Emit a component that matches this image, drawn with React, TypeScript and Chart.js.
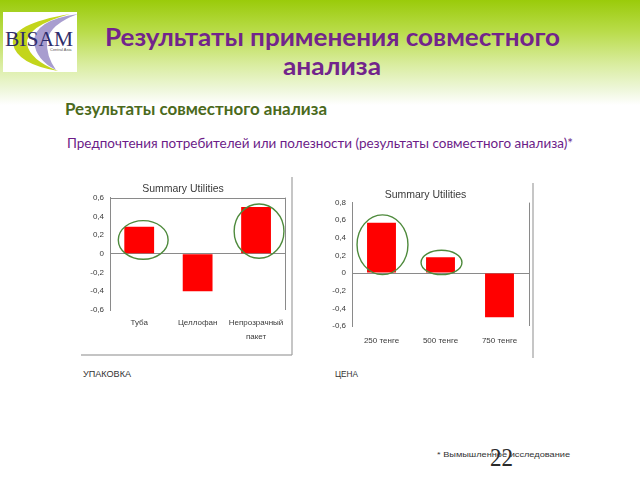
import React, { useEffect, useRef } from "react";
import { Chart, registerables } from "chart.js";

Chart.register(...registerables);

// ---- Data ----
const PACK_LABELS: (string | string[])[] = ["Туба", "Целлофан", ["Непрозрачный", "пакет"]];
const PACK_VALUES = [0.29, -0.4, 0.5];
const PACK_TICKS = [-0.6, -0.4, -0.2, 0, 0.2, 0.4, 0.6];
const PACK_TICK_LABELS = ["-0,6", "-0,4", "-0,2", "0", "0,2", "0,4", "0,6"];
const PACK_HIGHLIGHT = [0, 2];

const PRICE_LABELS = ["250 тенге", "500 тенге", "750 тенге"];
const PRICE_VALUES = [0.57, 0.18, -0.5];
const PRICE_TICKS = [-0.6, -0.4, -0.2, 0, 0.2, 0.4, 0.6, 0.8];
const PRICE_TICK_LABELS = ["-0,6", "-0,4", "-0,2", "0", "0,2", "0,4", "0,6", "0,8"];
const PRICE_HIGHLIGHT = [0, 1];

const CHART_TITLE = "Summary Utilities";

const AXIS_GRAY = "#8a8a8a";
const TEXT_GRAY = "#3a3a3a";
const BAR_RED = "#ff0000";
const ELLIPSE_GREEN = "#4e8a3c";
const CHART_FONT = "'Liberation Sans', Arial, sans-serif";

const ellipsePlugin = {
  id: "ellipses",
  afterDatasetsDraw(chart: any, _args: any, opts: any) {
    const items = (opts && opts.items) || [];
    const meta = chart.getDatasetMeta(0);
    const ctx = chart.ctx;
    ctx.save();
    ctx.strokeStyle = opts.color || ELLIPSE_GREEN;
    ctx.lineWidth = opts.width || 1.5;
    items.forEach((it: any) => {
      const el = meta.data[it.index];
      if (!el) return;
      const p = el.getProps(["x", "y", "base", "width"], true);
      const cx = p.x + (it.dx || 0);
      const cy = (p.y + p.base) / 2 + (it.dy || 0);
      const rx = p.width / 2 + it.padX;
      const ry = Math.abs(p.base - p.y) / 2 + it.padY;
      ctx.beginPath();
      ctx.ellipse(cx, cy, rx, ry, it.rot || 0, 0, Math.PI * 2);
      ctx.stroke();
    });
    ctx.restore();
  },
};

const framePlugin = {
  id: "areaFrame",
  afterDraw(chart: any, _args: any, opts: any) {
    const { left, top, right, bottom } = chart.chartArea;
    const ctx = chart.ctx;
    ctx.save();
    ctx.strokeStyle = AXIS_GRAY;
    ctx.lineWidth = 1;
    ctx.beginPath();
    const r = Math.round(right) + 0.5;
    if (opts && opts.top) {
      const t = Math.round(top) + 0.5;
      ctx.moveTo(left, t);
      ctx.lineTo(r, t);
    }
    ctx.moveTo(r, top);
    ctx.lineTo(r, bottom);
    ctx.stroke();
    ctx.restore();
  },
};

type Cfg = {
  labels: (string | string[])[];
  values: number[];
  ticks: number[];
  tickLabels: string[];
  highlight: number[];
  ellipseStyle: { dx: number; dy: number; padX: number; padY: number }[];
  width: number;
  height: number;
  yWidth: number;
  xHeight: number;
  padRight: number;
  titlePadTop: number;
  titlePadBottom: number;
  xTickPad: number;
  barPct: number;
  topBorder: boolean;
};

function BarChart(props: { cfg: Cfg }) {
  const ref = useRef<HTMLCanvasElement | null>(null);
  const c = props.cfg;
  useEffect(() => {
    if (!ref.current) return;
    const lbl = (v: number) => {
      const i = c.ticks.findIndex((t) => Math.abs(t - v) < 1e-6);
      return i >= 0 ? c.tickLabels[i] : "";
    };
    const chart = new Chart(ref.current, {
      type: "bar",
      data: {
        labels: c.labels as any,
        datasets: [
          {
            data: c.values,
            backgroundColor: BAR_RED,
            borderWidth: 0,
            barPercentage: c.barPct,
            categoryPercentage: 1,
          },
        ],
      },
      plugins: [ellipsePlugin, framePlugin],
      options: {
        responsive: false,
        animation: false,
        devicePixelRatio: 1,
        layout: { padding: { left: 0, right: c.padRight, top: 0, bottom: 0 } },
        plugins: {
          legend: { display: false },
          tooltip: { enabled: false },
          title: {
            display: true,
            text: CHART_TITLE,
            color: TEXT_GRAY,
            font: { family: CHART_FONT, size: 10.5, weight: "normal", lineHeight: 1.2 },
            padding: { top: c.titlePadTop, bottom: c.titlePadBottom },
          },
          ellipses: {
            color: ELLIPSE_GREEN,
            width: 1.4,
            items: c.highlight.map((index, k) => ({ index, ...c.ellipseStyle[k] })),
          },
          areaFrame: { top: c.topBorder },
        } as any,
        scales: {
          x: {
            grid: { display: false, drawTicks: false },
            border: { display: false },
            ticks: {
              color: TEXT_GRAY,
              font: { family: CHART_FONT, size: 8, lineHeight: 1.7 },
              padding: c.xTickPad,
              maxRotation: 0,
              autoSkip: false,
            },
            afterFit: (s: any) => {
              s.height = c.xHeight;
            },
          },
          y: {
            min: c.ticks[0],
            max: c.ticks[c.ticks.length - 1],
            afterBuildTicks: (s: any) => {
              s.ticks = c.ticks.map((v) => ({ value: v }));
            },
            afterFit: (s: any) => {
              s.width = c.yWidth;
            },
            ticks: {
              color: TEXT_GRAY,
              font: { family: CHART_FONT, size: 8 },
              padding: 6,
              callback: (v: any) => lbl(Number(v)),
            },
            grid: {
              drawTicks: false,
              lineWidth: 1,
              color: (ctx: any) =>
                ctx.tick && Math.abs(ctx.tick.value) < 1e-6 ? AXIS_GRAY : "rgba(0,0,0,0)",
            },
            border: { display: true, color: AXIS_GRAY, width: 1 },
          },
        },
      } as any,
    });
    return () => chart.destroy();
  }, []);
  return (
    <canvas
      ref={ref}
      width={c.width}
      height={c.height}
      style={{ width: c.width, height: c.height, display: "block" }}
    />
  );
}

const PACK_CFG: Cfg = {
  labels: PACK_LABELS,
  values: PACK_VALUES,
  ticks: PACK_TICKS,
  tickLabels: PACK_TICK_LABELS,
  highlight: PACK_HIGHLIGHT,
  ellipseStyle: [
    { dx: 4, dy: 0, padX: 10, padY: 6 },
    { dx: 3, dy: 1, padX: 10, padY: 4 },
  ],
  width: 210,
  height: 175,
  yWidth: 30,
  xHeight: 43,
  padRight: 4,
  titlePadTop: 5,
  titlePadBottom: 2,
  xTickPad: 6,
  barPct: 0.51,
  topBorder: true,
};

const PRICE_CFG: Cfg = {
  labels: PRICE_LABELS,
  values: PRICE_VALUES,
  ticks: PRICE_TICKS,
  tickLabels: PRICE_TICK_LABELS,
  highlight: PRICE_HIGHLIGHT,
  ellipseStyle: [
    { dx: 1, dy: -3, padX: 11, padY: 5 },
    { dx: 1, dy: -2.5, padX: 6, padY: 4.5 },
  ],
  width: 210,
  height: 175,
  yWidth: 30,
  xHeight: 29,
  padRight: 3,
  titlePadTop: 9,
  titlePadBottom: 1,
  xTickPad: 8,
  barPct: 0.49,
  topBorder: false,
};

export default function App() {
  return (
    <div
      style={{
        position: "absolute",
        left: 0,
        top: 0,
        width: 640,
        height: 480,
        overflow: "hidden",
        background: "#ffffff",
      }}
    >
      <svg width={640} height={480} style={{ position: "absolute", left: 0, top: 0 }}>
        <defs>
          <linearGradient id="hdr" x1="0" y1="0" x2="0" y2="1">
            <stop offset="0" stopColor="#9acb0a" />
            <stop offset="0.3" stopColor="#b9dc4a" />
            <stop offset="0.6" stopColor="#d8ec9c" />
            <stop offset="0.85" stopColor="#eef7da" />
            <stop offset="1" stopColor="#ffffff" />
          </linearGradient>
        </defs>
        <rect x={0} y={0} width={640} height={105} fill="url(#hdr)" />
        {/* logo */}
        <rect x={3} y={12} width={74} height={60} fill="#ffffff" />
        <path d="M 70 14 Q 10 24 13 44 Q 17 64 58 71 Q 30 60 27 44 Q 26 26 70 14 Z" fill="#c3d51c" />
        <path d="M 78 14 Q 34 20 34 42 Q 36 60 56 70 Q 46 56 47 41 Q 50 24 78 14 Z" fill="#a89dcf" />
        <text
          x={5}
          y={46}
          textLength={68}
          lengthAdjust="spacingAndGlyphs"
          fontFamily="'Liberation Serif', serif"
          fontSize={20}
          fill="#2f2d6c"
        >
          BISAM
        </text>
        <text x={50} y={51} fontFamily="'Liberation Sans', sans-serif" fontSize={4} fill="#555">
          Central Asia
        </text>
        {/* titles */}
        <text
          x={105}
          y={46}
          textLength={455}
          lengthAdjust="spacingAndGlyphs"
          fontFamily="Lato, 'DejaVu Sans', sans-serif"
          fontWeight="bold"
          fontSize={24}
          fill="#72248c"
        >
          Результаты применения совместного
        </text>
        <text
          x={283}
          y={75}
          textLength={98}
          lengthAdjust="spacingAndGlyphs"
          fontFamily="Lato, 'DejaVu Sans', sans-serif"
          fontWeight="bold"
          fontSize={24}
          fill="#72248c"
        >
          анализа
        </text>
        <text
          x={65}
          y={115}
          textLength={262}
          lengthAdjust="spacingAndGlyphs"
          fontFamily="Lato, 'DejaVu Sans', sans-serif"
          fontWeight="bold"
          fontSize={17}
          fill="#4b6a1c"
        >
          Результаты совместного анализа
        </text>
        <text
          x={67}
          y={148}
          textLength={506}
          lengthAdjust="spacingAndGlyphs"
          fontFamily="Lato, 'DejaVu Sans', sans-serif"
          fontSize={12.5}
          fill="#6c1c88"
        >
          Предпочтения потребителей или полезности (результаты совместного анализа)*
        </text>
        {/* chart frames */}
        <line x1={81} y1={355} x2={292} y2={355} stroke="#b0b0b0" strokeWidth={1.5} />
        <line x1={292} y1={177} x2={292} y2={355} stroke="#a0a0a0" strokeWidth={1.2} />
        <line x1={533} y1={183} x2={533} y2={358} stroke="#a0a0a0" strokeWidth={1.2} />
        {/* captions */}
        <text x={83} y={377} textLength={48} lengthAdjust="spacingAndGlyphs" fontFamily="'Liberation Sans', Arial, sans-serif" fontSize={8.5} fill="#333">
          УПАКОВКА
        </text>
        <text x={335} y={377} textLength={23} lengthAdjust="spacingAndGlyphs" fontFamily="'Liberation Sans', Arial, sans-serif" fontSize={8.5} fill="#333">
          ЦЕНА
        </text>
        <text x={490} y={466} textLength={23} lengthAdjust="spacingAndGlyphs" fontFamily="'Liberation Serif', serif" fontSize={26} fill="#2a2a2a">
          22
        </text>
        <text x={437} y={457} textLength={133} lengthAdjust="spacingAndGlyphs" fontFamily="'Liberation Sans', Arial, sans-serif" fontSize={8} fill="#333">
          * Вымышленное исследование
        </text>
      </svg>
      <div style={{ position: "absolute", left: 80, top: 178 }}>
        <BarChart cfg={PACK_CFG} />
      </div>
      <div style={{ position: "absolute", left: 322, top: 180 }}>
        <BarChart cfg={PRICE_CFG} />
      </div>
    </div>
  );
}
